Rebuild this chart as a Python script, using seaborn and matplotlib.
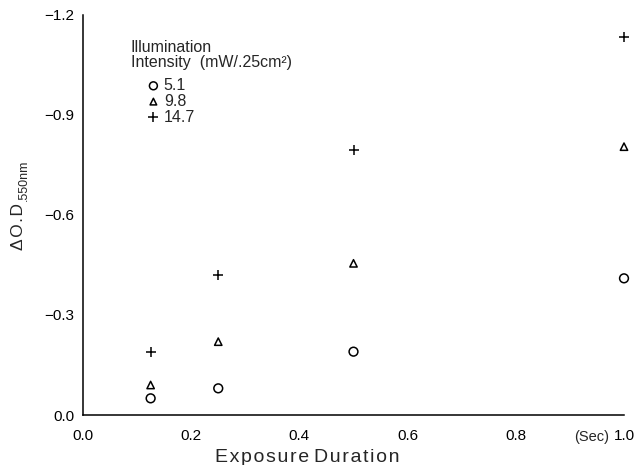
import matplotlib
matplotlib.use("Agg")
import matplotlib.pyplot as plt
import seaborn as sns
import pandas as pd

# ---- data ----
durations = [0.125, 0.25, 0.5, 1.0]
od_5_1 = [-0.05, -0.08, -0.19, -0.41]
od_9_8 = [-0.09, -0.22, -0.455, -0.805]
od_14_7 = [-0.19, -0.42, -0.795, -1.135]
intensity_labels = ["5.1", "9.8", "14.7"]
x_ticks = [0.0, 0.2, 0.4, 0.6, 0.8, 1.0]
y_ticks = [0.0, -0.3, -0.6, -0.9, -1.2]

sns.set_style("white")
plt.rcParams["font.family"] = ["Liberation Sans", "DejaVu Sans"]

df = pd.DataFrame({
    "duration": durations * 3,
    "od": od_5_1 + od_9_8 + od_14_7,
    "intensity": sum([[lab] * len(durations) for lab in intensity_labels], []),
})

W, H = 636, 465
fig = plt.figure(figsize=(W / 100, H / 100), dpi=100)
ax = fig.add_axes([83 / W, 1 - 415 / H, (624 - 83) / W, 400 / H])

markers = {"5.1": "o", "9.8": "^", "14.7": "+"}
sizes = {"5.1": 40, "9.8": 28, "14.7": 55}
for lab in intensity_labels:
    sub = df[df["intensity"] == lab]
    m = markers[lab]
    if m == "+":
        sns.scatterplot(data=sub, x="duration", y="od", marker=m, s=sizes[lab],
                        color="black", linewidth=1.1, ax=ax, label=lab,
                        clip_on=False, zorder=5)
    else:
        sns.scatterplot(data=sub, x="duration", y="od", marker=m, s=sizes[lab],
                        facecolors="none", edgecolor="black", linewidth=1.1,
                        ax=ax, label=lab, clip_on=False, zorder=5)

ax.set_xlim(0, 1.0)
ax.set_ylim(0, -1.2)
ax.set_xticks(x_ticks)
ax.set_yticks(y_ticks)
ax.set_xticklabels([f"{v:.1f}" for v in x_ticks])
ax.set_yticklabels(["0.0" if v == 0 else f"\u2212{abs(v):.1f}" for v in y_ticks])
ax.tick_params(direction="in", length=5, width=1, colors="black",
               labelsize=11, pad=10)
ax.tick_params(axis="y", pad=6)

for side in ["top", "right"]:
    ax.spines[side].set_visible(False)
for side in ["left", "bottom"]:
    ax.spines[side].set_color("black")
    ax.spines[side].set_linewidth(1.1)

ax.set_xlabel("E x p o s u r e   D u r a t i o n".replace(" ", "\u200a"), fontsize=14)
ax.xaxis.set_label_coords(0.415, -0.085)
ax.set_ylabel("")

# y label: "ΔO.D" with smaller ".550nm" subscript
hs = "\u200a"
t1 = fig.text(23 / W, 1 - 250 / H, hs.join("\u0394O.D"), rotation=90, fontsize=12.5,
              ha="left", va="baseline", rotation_mode="anchor")
fig.canvas.draw()
ext = t1.get_window_extent(fig.canvas.get_renderer())
top_px = ext.y1  # display coords (from bottom)
fig.text(27 / W, (top_px + 2) / H, ".550nm", rotation=90, fontsize=9,
         ha="left", va="baseline", rotation_mode="anchor")

ax.text(0.94, -0.055, "(Sec)", transform=ax.transAxes, fontsize=10.5,
        ha="center", va="center")

# legend title
fig.text(131 / W, 1 - 48 / H, "Illumination", fontsize=11.5,
         ha="left", va="center")
fig.text(131 / W, 1 - 63 / H, "Intensity  (mW/.25cm\u00b2)", fontsize=11.5,
         ha="left", va="center")

leg = ax.legend(loc="upper left", bbox_to_anchor=(147 / W, 1 - 78 / H),
                bbox_transform=fig.transFigure,
                frameon=False, fontsize=11.5,
                handlelength=0.8, handletextpad=0.25,
                labelspacing=0.05, borderpad=0.0, borderaxespad=0.0,
                markerscale=0.9)

fig.savefig("out.png", dpi=100, facecolor="white")
